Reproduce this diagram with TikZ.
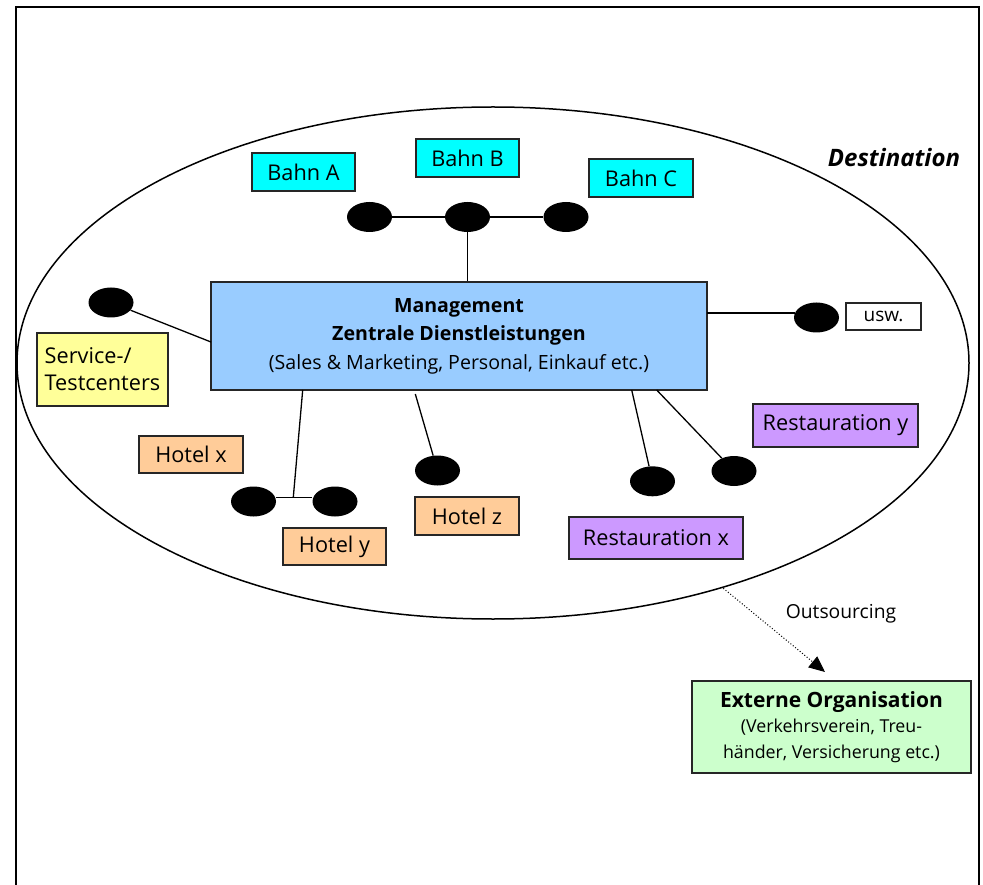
\documentclass[tikz,border=0pt]{standalone}
\usepackage{fontspec}
\setmainfont{Open Sans}
\usetikzlibrary{arrows.meta,shapes.geometric}
\definecolor{bahn}{HTML}{00FFFF}
\definecolor{mainblue}{HTML}{99CCFF}
\definecolor{svc}{HTML}{FFFF99}
\definecolor{hotel}{HTML}{FFCC99}
\definecolor{rest}{HTML}{CC99FF}
\definecolor{ext}{HTML}{CCFFCC}
\begin{document}
\begin{tikzpicture}[x=1pt,y=-1pt,
  box/.style={draw=black!85, line width=1.1pt, inner sep=0pt, font=\fontsize{21.7}{26}\selectfont},
  blob/.style={ellipse, fill=black, minimum width=45pt, minimum height=30pt, inner sep=0pt},
  link/.style={line width=1.3pt}]
\useasboundingbox (0,0) rectangle (983,885);
% frame
\draw[line width=2pt] (15.5,885) -- (15.5,7.5) -- (978.5,7.5) -- (978.5,885);
% destination ellipse
\draw[line width=1.5pt] (493,363) ellipse [x radius=476, y radius=256];
\node[font=\fontsize{24}{28}\selectfont\bfseries\itshape] (dest) at (894,158) {Destination};

% boxes
\node[box, fill=bahn, minimum width=103pt, minimum height=38pt] (bahnA) at (303.5,172) {Bahn A};
\node[box, fill=bahn, minimum width=103pt, minimum height=38pt] (bahnB) at (467.5,158) {Bahn B};
\node[box, fill=bahn, minimum width=104pt, minimum height=38pt] (bahnC) at (641,178) {Bahn C};
\node[box, fill=mainblue, minimum width=496pt, minimum height=108pt, align=center,
      font=\fontsize{19.6}{28.5}\selectfont] (main) at (459,336)
      {\textbf{Management}\\\textbf{Zentrale Dienstleistungen}\\(Sales \& Marketing, Personal, Einkauf etc.)};
\node[box, fill=svc, minimum width=131pt, minimum height=73pt, align=left,
      font=\fontsize{21.7}{27}\selectfont] (svc) at (102.5,369.5) {Service-/\\Testcenters};
\node[box, fill=white, minimum width=75pt, minimum height=27pt, font=\fontsize{19}{22}\selectfont] (usw) at (883.5,316.5) {usw.};
\node[box, fill=hotel, minimum width=104pt, minimum height=37pt] (hx) at (191,454.5) {Hotel x};
\node[box, fill=hotel, minimum width=103pt, minimum height=37pt] (hy) at (334.5,546.5) {Hotel y};
\node[box, fill=hotel, minimum width=104pt, minimum height=38pt] (hz) at (467,516) {Hotel z};
\node[box, fill=rest, minimum width=165pt, minimum height=43pt] (ry) at (835.5,425.5) {Restauration y};
\node[box, fill=rest, minimum width=174pt, minimum height=42pt] (rx) at (656,538) {Restauration x};
\node[box, fill=ext, minimum width=279pt, minimum height=92pt, align=center,
      font=\fontsize{17.8}{25.5}\selectfont] (ext) at (831.5,727)
      {{\fontsize{21}{25.5}\selectfont\bfseries Externe Organisation}\\(Verkehrsverein, Treu-\\händer, Versicherung etc.)};
\node[font=\fontsize{19.3}{23}\selectfont] (outs) at (841,614) {Outsourcing};

% dots
\node[blob] (d1) at (369.5,217) {};
\node[blob] (d2) at (467.5,217) {};
\node[blob] (d3) at (566,217) {};
\node[blob] (dS) at (111,302.5) {};
\node[blob] (dU) at (816.5,317.5) {};
\node[blob] (dHx) at (253.5,501.5) {};
\node[blob] (dHy) at (335,501.5) {};
\node[blob] (dZ) at (437.5,470.5) {};
\node[blob] (dRx) at (652.5,481.3) {};
\node[blob] (dRy) at (734,471) {};

% connector end points
\coordinate (mS) at (211,342);
\coordinate (mU) at (707,313);
\coordinate (mH) at (302.7,390);
\coordinate (jH) at (293.3,497.3);
\coordinate (mZ) at (415.3,394);
\coordinate (mRx) at (631.7,390);
\coordinate (mRy) at (656.7,390);
\coordinate (os) at (723.3,588.3);
\coordinate (oe) at (825,672);

% connectors
\draw[link] (d1) -- (d3);
\draw[link] (d2) -- (d2 |- main.north);
\draw[link] (dS) -- (mS);
\draw[link] (mU) -- ([xshift=1pt]dU.west |- mU);
\draw[link] (mH) -- (jH);
\draw[link] (dHx.east |- jH) -- (dHy.west |- jH);
\draw[link] (mZ) -- (dZ);
\draw[link] (mRx) -- (dRx);
\draw[link] (mRy) -- (dRy);
\draw[line width=1pt, dotted, -{Triangle[length=16pt,width=14pt]}] (os) -- (oe);
\end{tikzpicture}
\end{document}
